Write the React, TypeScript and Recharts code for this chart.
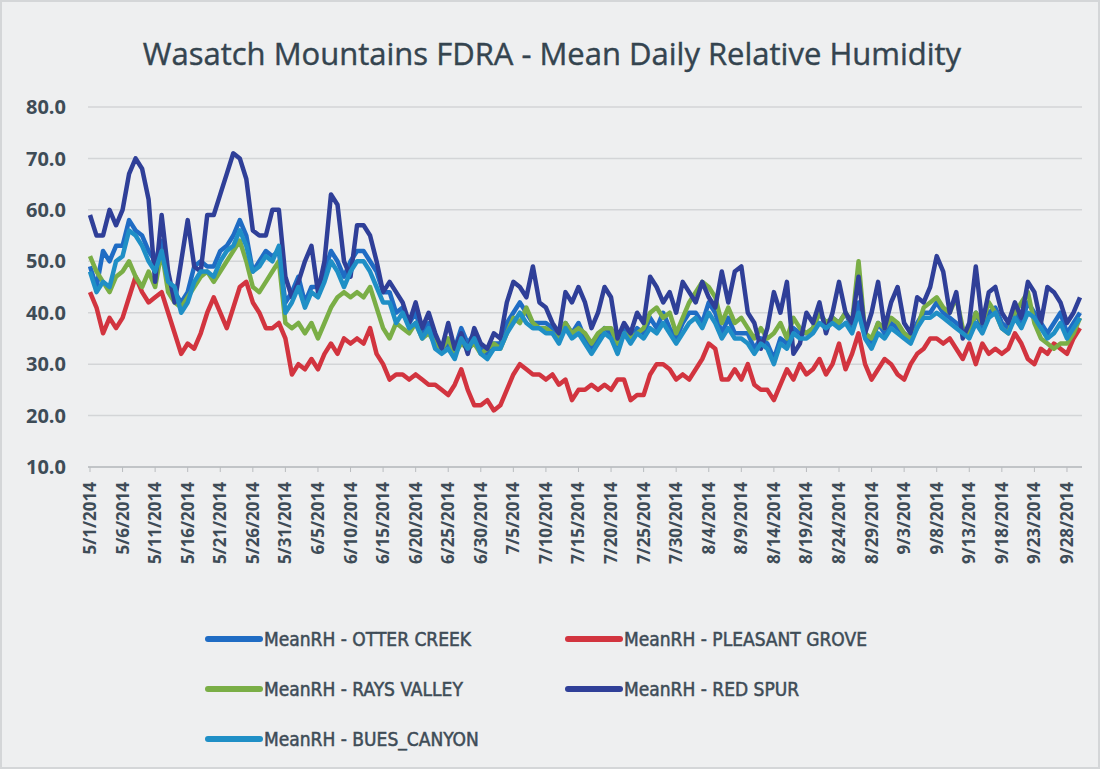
import React from 'react';
import { LineChart, Line, XAxis, YAxis, CartesianGrid } from 'recharts';

// 5/1/2014 .. 9/30/2014
const monthDays: [number, number][] = [[5, 31], [6, 30], [7, 31], [8, 31], [9, 30]];
const dates: string[] = [];
monthDays.forEach(([m, n]) => {
    for (let d = 1; d <= n; d++) dates.push(`${m}/${d}/2014`);
});

const otterCreek = [
    49, 45, 52, 50, 53, 53, 58, 56, 55, 52, 50, 54, 46, 44, 42, 44, 49, 50, 49, 49,
    52, 53, 55, 58, 55, 48, 50, 52, 51, 52, 42, 44, 47, 42, 45, 45, 48, 52, 50, 47,
    50, 52, 52, 50, 48, 44, 44, 40, 41, 38, 40, 36, 38, 35, 33, 34, 33, 37, 34, 36,
    33, 32, 34, 34, 38, 40, 42, 40, 38, 38, 38, 37, 35, 38, 36, 38, 35, 33, 35, 37,
    36, 33, 37, 35, 37, 36, 39, 37, 40, 37, 35, 38, 40, 40, 38, 42, 40, 36, 39, 36,
    36, 36, 33, 35, 34, 31, 35, 34, 37, 36, 36, 37, 40, 38, 39, 38, 40, 37, 42, 36,
    34, 38, 36, 38, 37, 36, 35, 38, 40, 40, 42, 40, 39, 38, 37, 36, 40, 37, 40, 41,
    38, 37, 40, 38, 42, 40, 38, 36, 38, 40, 36, 38, 40,
];
const pleasantGrove = [
    44, 41, 36, 39, 37, 39, 43, 47, 44, 42, 43, 44, 40, 36, 32, 34, 33, 36, 40, 43,
    40, 37, 41, 45, 46, 42, 40, 37, 37, 38, 35, 28, 30, 29, 31, 29, 32, 34, 32, 35,
    34, 35, 34, 37, 32, 30, 27, 28, 28, 27, 28, 27, 26, 26, 25, 24, 26, 29, 25, 22,
    22, 23, 21, 22, 25, 28, 30, 29, 28, 28, 27, 28, 26, 27, 23, 25, 25, 26, 25, 26,
    25, 27, 27, 23, 24, 24, 28, 30, 30, 29, 27, 28, 27, 29, 31, 34, 33, 27, 27, 29,
    27, 30, 26, 25, 25, 23, 26, 29, 27, 30, 28, 29, 31, 28, 30, 34, 29, 32, 36, 30,
    27, 29, 31, 30, 28, 27, 30, 32, 33, 35, 35, 34, 35, 33, 31, 34, 30, 34, 32, 33,
    32, 33, 36, 34, 31, 30, 33, 32, 34, 33, 32, 35, 37,
];
const raysValley = [
    51, 48, 46, 44, 47, 48, 50, 47, 45, 48, 45, 52, 44, 42, 41, 43, 45, 47, 48, 46,
    48, 50, 52, 54, 50, 45, 44, 46, 48, 50, 38, 37, 38, 36, 38, 35, 38, 41, 43, 44,
    43, 44, 43, 45, 41, 37, 35, 38, 37, 36, 38, 35, 36, 34, 33, 35, 32, 34, 33, 34,
    32, 33, 34, 33, 36, 39, 38, 41, 38, 37, 37, 36, 35, 38, 36, 37, 36, 34, 36, 37,
    37, 34, 36, 35, 36, 37, 40, 41, 39, 40, 36, 39, 42, 44, 46, 45, 43, 38, 41, 38,
    39, 37, 35, 37, 35, 36, 38, 35, 39, 37, 36, 37, 40, 38, 39, 38, 40, 38, 50, 36,
    35, 38, 37, 39, 38, 36, 35, 37, 41, 42, 43, 41, 40, 43, 37, 36, 40, 38, 42, 40,
    37, 36, 40, 42, 44, 38, 35, 34, 33, 34, 34, 36, 39,
];
const redSpur = [
    59, 55, 55, 60, 57, 60, 67, 70, 68, 62, 46, 59, 48, 42, 50, 58, 49, 48, 59, 59,
    63, 67, 71, 70, 66, 56, 55, 55, 60, 60, 47, 43, 46, 50, 53, 44, 50, 63, 61, 50,
    47, 57, 57, 55, 50, 44, 46, 44, 42, 38, 42, 37, 40, 36, 33, 38, 33, 36, 32, 37,
    34, 33, 36, 35, 42, 46, 45, 43, 49, 42, 41, 38, 36, 44, 42, 45, 42, 37, 40, 45,
    43, 35, 38, 36, 40, 38, 47, 45, 42, 44, 40, 46, 44, 42, 46, 43, 41, 48, 42, 48,
    49, 40, 38, 33, 37, 44, 40, 46, 32, 34, 40, 38, 42, 36, 40, 46, 40, 38, 47, 36,
    40, 46, 37, 42, 45, 38, 36, 43, 42, 45, 51, 48, 40, 44, 35, 38, 49, 38, 44, 45,
    40, 38, 42, 39, 46, 44, 38, 45, 44, 42, 38, 40, 43,
];
const buesCanyon = [
    48, 44, 46, 45, 50, 51, 56, 55, 53, 50, 48, 52, 46, 45, 40, 42, 46, 48, 48, 47,
    50, 52, 53, 56, 53, 48, 49, 51, 50, 53, 40, 42, 45, 41, 44, 43, 46, 50, 48, 45,
    48, 50, 50, 48, 45, 42, 42, 38, 40, 37, 38, 35, 37, 33, 32, 33, 31, 35, 33, 35,
    32, 31, 33, 33, 36, 38, 40, 38, 37, 37, 36, 36, 34, 37, 35, 36, 34, 32, 34, 36,
    35, 32, 36, 34, 36, 35, 37, 36, 38, 36, 34, 36, 38, 39, 37, 40, 38, 35, 37, 35,
    35, 34, 32, 34, 33, 30, 34, 33, 36, 35, 35, 36, 38, 37, 38, 37, 38, 36, 40, 35,
    33, 36, 35, 37, 36, 35, 34, 37, 39, 39, 40, 39, 38, 37, 36, 35, 38, 36, 39, 40,
    37, 36, 39, 37, 40, 39, 37, 35, 36, 38, 35, 37, 39,
];

const yTicks = [10, 20, 30, 40, 50, 60, 70, 80];

const seriesDefs = [
    { key: 'oc', name: 'MeanRH - OTTER CREEK', color: '#1f6cc4', values: otterCreek },
    { key: 'pg', name: 'MeanRH - PLEASANT GROVE', color: '#d2343f', values: pleasantGrove },
    { key: 'rv', name: 'MeanRH - RAYS VALLEY', color: '#7aae46', values: raysValley },
    { key: 'rs', name: 'MeanRH - RED SPUR', color: '#2f3f98', values: redSpur },
    { key: 'bc', name: 'MeanRH - BUES_CANYON', color: '#1f8fc6', values: buesCanyon },
];

const data = dates.map((date, i) => {
    const row: any = { date };
    seriesDefs.forEach(s => { row[s.key] = s.values[i]; });
    return row;
});

const FONT = "'Open Sans', sans-serif";
const NARROW = "'DejaVu Sans Condensed', 'Open Sans', sans-serif";
const TEXT = '#3e4c57';

const XTick = ({ x, y, payload }: any) => (
    <text x={x} y={y} transform={`rotate(-90, ${x}, ${y})`} dx={-8} dy={6}
        textAnchor="end" fill={TEXT} fontSize={17} fontWeight={700} fontFamily={FONT}>
        {payload.value}
    </text>
);

const legendOrder = [
    [seriesDefs[0], seriesDefs[1]],
    [seriesDefs[2], seriesDefs[3]],
    [seriesDefs[4]],
];

export default function App() {
    return (
        <div style={{
            position: 'fixed', left: 0, top: 0, width: 1100, height: 769,
            background: '#eeeff0', boxSizing: 'border-box', border: '2px solid #d4d6d8',
            fontFamily: FONT, overflow: 'hidden',
        }}>
            <div style={{
                position: 'absolute', left: 0, width: 1100, top: 30, textAlign: 'center',
                fontSize: 31, color: '#34444f', fontFamily: FONT, WebkitTextStroke: '0.4px #34444f',
            }}>
                Wasatch Mountains FDRA - Mean Daily Relative Humidity
            </div>
            <div style={{ position: 'absolute', left: -2, top: -2 }}>
                <LineChart width={1100} height={610} data={data}
                    margin={{ top: 107, right: 18, left: 0, bottom: 0 }}>
                    <CartesianGrid vertical={false} stroke="#d3d5d7" strokeWidth={1.5} />
                    <XAxis dataKey="date" interval={4} height={143} tick={<XTick />}
                        axisLine={{ stroke: '#b9bcbf', strokeWidth: 1.5 }}
                        tickLine={{ stroke: '#b9bcbf' }} tickSize={5} padding={{ left: 2, right: 2 }} />
                    <YAxis domain={[10, 80]} ticks={yTicks} width={88} axisLine={false}
                        tickLine={false} tickSize={0} tickMargin={22}
                        tickFormatter={(v: number) => v.toFixed(1)}
                        tick={{ fill: TEXT, fontSize: 20, fontWeight: 700, fontFamily: FONT }} />
                    {seriesDefs.map(s => (
                        <Line key={s.key} dataKey={s.key} name={s.name} stroke={s.color}
                            strokeWidth={4.5} dot={false} isAnimationActive={false}
                            type="linear" strokeLinejoin="round" />
                    ))}
                </LineChart>
            </div>
            {legendOrder.map((row, r) => row.map((s, c) => (
                <div key={s.key} style={{
                    position: 'absolute', left: c === 0 ? 203 : 563, top: 622 + r * 50,
                    display: 'flex', alignItems: 'center', height: 30,
                }}>
                    <div style={{ width: 58, height: 6, borderRadius: 3, background: s.color }} />
                    <span style={{
                        fontSize: 19, color: TEXT, marginLeft: 1, fontFamily: NARROW,
                        WebkitTextStroke: '0.5px ' + TEXT,
                    }}>{s.name}</span>
                </div>
            )))}
        </div>
    );
}
